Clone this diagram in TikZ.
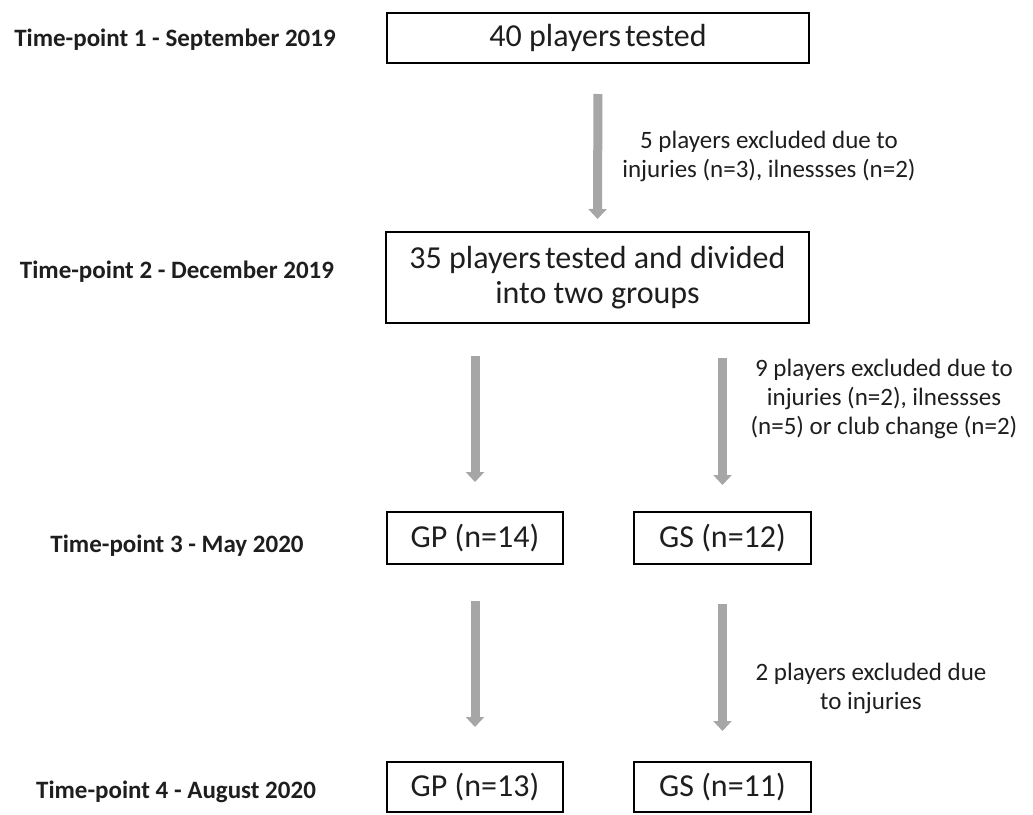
\documentclass[tikz,border=0pt]{standalone}
\usepackage{fontspec}
\setmainfont{Carlito}
\usetikzlibrary{arrows.meta}
\definecolor{arrowgray}{RGB}{166,166,166}
\definecolor{txt}{RGB}{30,30,30}
\begin{document}
\begin{tikzpicture}[x=1pt,y=-1pt,
  box/.style={draw=black, line width=2pt, inner sep=0pt, align=center, text=txt,
    font=\fontsize{32}{35}\selectfont},
  tlabel/.style={font=\bfseries\fontsize{25}{30}\selectfont, text=txt},
  note/.style={align=center, text=txt, font=\fontsize{25}{29}\selectfont},
  garrow/.style={draw=arrowgray, line width=9pt, -{Triangle[width=18pt,length=10pt]}}]
\useasboundingbox (0,0) rectangle (1033,814);

% boxes
\node[box, minimum width=422pt, minimum height=50pt] (b1) at (598,38) {40 players\hspace{0.12em}tested};
\node[box, minimum width=423pt, minimum height=91pt] (b2) at (597.5,277.5) {35 players\hspace{0.12em}tested and divided\\into two groups};
\node[box, minimum width=176pt, minimum height=52pt] (gp1) at (475,538) {GP (n=14)};
\node[box, minimum width=177pt, minimum height=52pt] (gs1) at (722.5,538) {GS (n=12)};
\node[box, minimum width=176pt, minimum height=50pt] (gp2) at (475,787) {GP (n=13)};
\node[box, minimum width=177pt, minimum height=50pt] (gs2) at (722.5,787) {GS (n=11)};

% time-point labels
\node[tlabel] (t1) at (175,40) {Time-point 1 - September 2019};
\node[tlabel] (t2) at (177,272) {Time-point 2 - December 2019};
\node[tlabel] (t3) at (177,546) {Time-point 3 - May 2020};
\node[tlabel] (t4) at (176,792) {Time-point 4 - August 2020};

% arrows
\draw[garrow, shorten <=30pt, shorten >=12pt] (b1.south) -- (b2.north);
\draw[garrow, shorten <=32pt, shorten >=29pt] (b2.south -| gp1.north) -- (gp1.north);
\draw[garrow, shorten <=34pt, shorten >=26pt] (b2.south -| gs1.north) -- (gs1.north);
\draw[garrow, shorten <=36pt, shorten >=34pt] (gp1.south) -- (gp2.north);
\draw[garrow, shorten <=39pt, shorten >=30pt] (gs1.south) -- (gs2.north);

% notes
\node[note] (n1) at (769,156) {5 players excluded due to\\injuries (n=3), ilnessses (n=2)};
\node[note] (n2) at (884,399) {9 players excluded due to\\injuries (n=2), ilnessses\\(n=5) or club change (n=2)};
\node[note] (n3) at (871,688) {2 players excluded due\\to injuries};
\end{tikzpicture}
\end{document}
